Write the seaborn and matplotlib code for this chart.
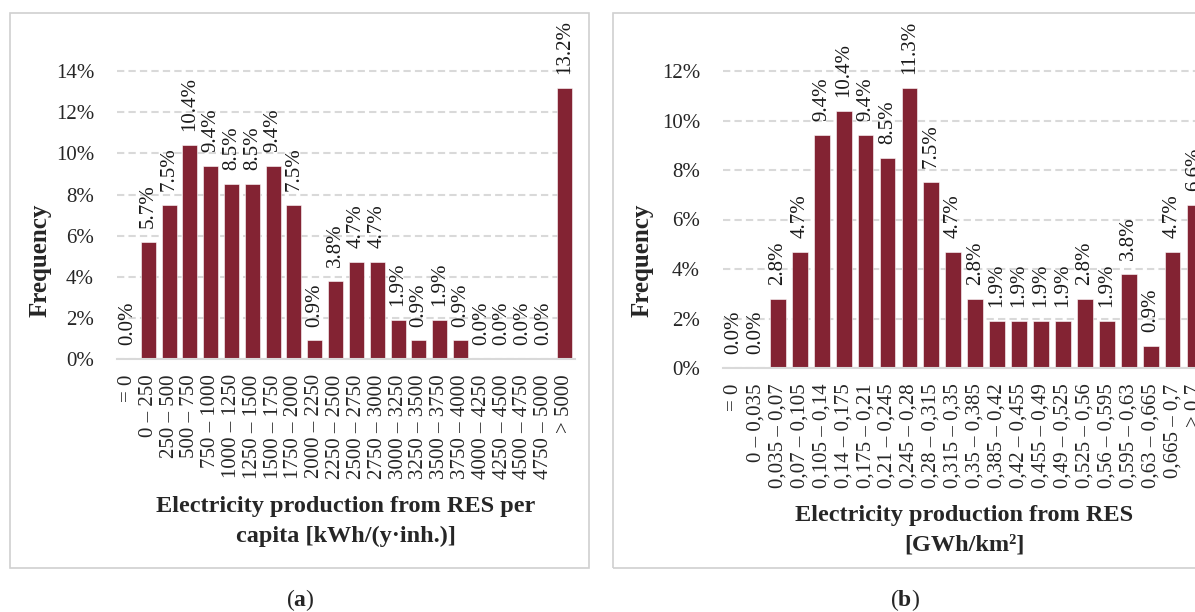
import seaborn as sns
import numpy as np
import pandas as pd
import matplotlib.pyplot as plt
from matplotlib.patches import Rectangle
from matplotlib.ticker import FuncFormatter

#data (percent of municipalities)
cats_a = ["= 0", "0 – 250", "250 – 500", "500 – 750", "750 – 1000", "1000 – 1250",
          "1250 – 1500", "1500 – 1750", "1750 – 2000", "2000 – 2250", "2250 – 2500",
          "2500 – 2750", "2750 – 3000", "3000 – 3250", "3250 – 3500", "3500 – 3750",
          "3750 – 4000", "4000 – 4250", "4250 – 4500", "4500 – 4750", "4750 – 5000", "> 5000"]
freq_a = [0.0, 5.7, 7.5, 10.4, 9.4, 8.5, 8.5, 9.4, 7.5, 0.9, 3.8,
          4.7, 4.7, 1.9, 0.9, 1.9, 0.9, 0.0, 0.0, 0.0, 0.0, 13.2]

cats_b = ["= 0", "0 – 0,035", "0,035 – 0,07", "0,07 – 0,105", "0,105 – 0,14", "0,14 – 0,175",
          "0,175 – 0,21", "0,21 – 0,245", "0,245 – 0,28", "0,28 – 0,315", "0,315 – 0,35",
          "0,35 – 0,385", "0,385 – 0,42", "0,42 – 0,455", "0,455 – 0,49", "0,49 – 0,525",
          "0,525 – 0,56", "0,56 – 0,595", "0,595 – 0,63", "0,63 – 0,665", "0,665 – 0,7", "> 0,7"]
freq_b = [0.0, 0.0, 2.8, 4.7, 9.4, 10.4, 9.4, 8.5, 11.3, 7.5, 4.7,
          2.8, 1.9, 1.9, 1.9, 1.9, 2.8, 1.9, 3.8, 0.9, 4.7, 6.6]

xlabel_a = "Electricity production from RES per\ncapita [kWh/(y·inh.)]"
xlabel_b = "Electricity production from RES\n[GWh/km²]"

bar_color = "#832333"
grid_color = "#d9d9d9"

sns.set_style("white")
plt.rcParams['font.family'] = ['Liberation Serif', 'DejaVu Serif']
plt.rcParams['mathtext.fontset'] = 'custom'
plt.rcParams['mathtext.rm'] = 'Liberation Serif'
plt.rcParams['mathtext.bf'] = 'Liberation Serif:bold'

W, H = 1195, 612
fig = plt.figure(figsize=(W / 100, H / 100), dpi=100)

def fy(y):
    #pixel row (from top) to figure fraction
    return 1 - y / H

#axes placed in pixels: left, bottom row of 0%, width, height
ax_a = fig.add_axes([117 / W, fy(359), 458 / W, 329 / H])
ax_b = fig.add_axes([723 / W, fy(368), 482.5 / W, 321.75 / H])

for ax, cats, vals, ymax, yticks in [(ax_a, cats_a, freq_a, 16, range(0, 15, 2)),
                                     (ax_b, cats_b, freq_b, 13, range(0, 13, 2))]:
    df = pd.DataFrame({"cat": cats, "freq": vals})
    sns.barplot(data=df, x="cat", y="freq", order=cats, color=bar_color,
                saturation=1, width=0.72, edgecolor="white", linewidth=0.4, ax=ax)
    ax.bar_label(ax.containers[0], labels=[f"{v:.1f}%" for v in vals],
                 rotation=90, padding=10, fontsize=15, color="#1a1a1a")
    ax.set_xlim(-0.5, len(cats) - 0.5)
    ax.set_ylim(0, ymax)
    ax.set_yticks(list(yticks))
    ax.yaxis.set_major_formatter(FuncFormatter(lambda v, p: f"{v:.0f}%"))
    ax.grid(axis="y", color=grid_color, linestyle=(0, (3.5, 2)), linewidth=1.5)
    ax.set_axisbelow(True)
    for s in ["left", "right", "top"]:
        ax.spines[s].set_visible(False)
    ax.spines["bottom"].set_color(grid_color)
    ax.spines["bottom"].set_linewidth(1.5)
    ax.tick_params(axis="x", rotation=90, length=0, pad=11, labelsize=15)
    ax.tick_params(axis="y", length=0, pad=16.5, labelsize=15)
    ax.set_xlabel("")
    ax.set_ylabel("")

#axis titles
fig.text(40 / W, fy(260), "Frequency", rotation=90, ha="center", va="center",
         fontsize=18, fontweight="bold")
fig.text(642 / W, fy(260), "Frequency", rotation=90, ha="center", va="center",
         fontsize=18, fontweight="bold")
fig.text(346 / W, fy(496), xlabel_a, ha="center", va="top", fontsize=17.5,
         fontweight="bold", linespacing=1.55)
fig.text(964 / W, fy(505), xlabel_b, ha="center", va="top", fontsize=17.5,
         fontweight="bold", linespacing=1.55)

#panel frames
fig.patches.append(Rectangle((10 / W, fy(568)), 579 / W, 555 / H, transform=fig.transFigure,
                             fill=False, edgecolor="#d0d0d0", linewidth=1.2))
fig.patches.append(Rectangle((613 / W, fy(568)), 600 / W, 555 / H, transform=fig.transFigure,
                             fill=False, edgecolor="#d0d0d0", linewidth=1.2))

#sub-figure captions
fig.text(300 / W, fy(600), r"($\mathbf{a}$)", ha="center", va="center", fontsize=17)
fig.text(905 / W, fy(600), r"($\mathbf{b}$)", ha="center", va="center", fontsize=17)

fig.savefig("out.png", dpi=100)
